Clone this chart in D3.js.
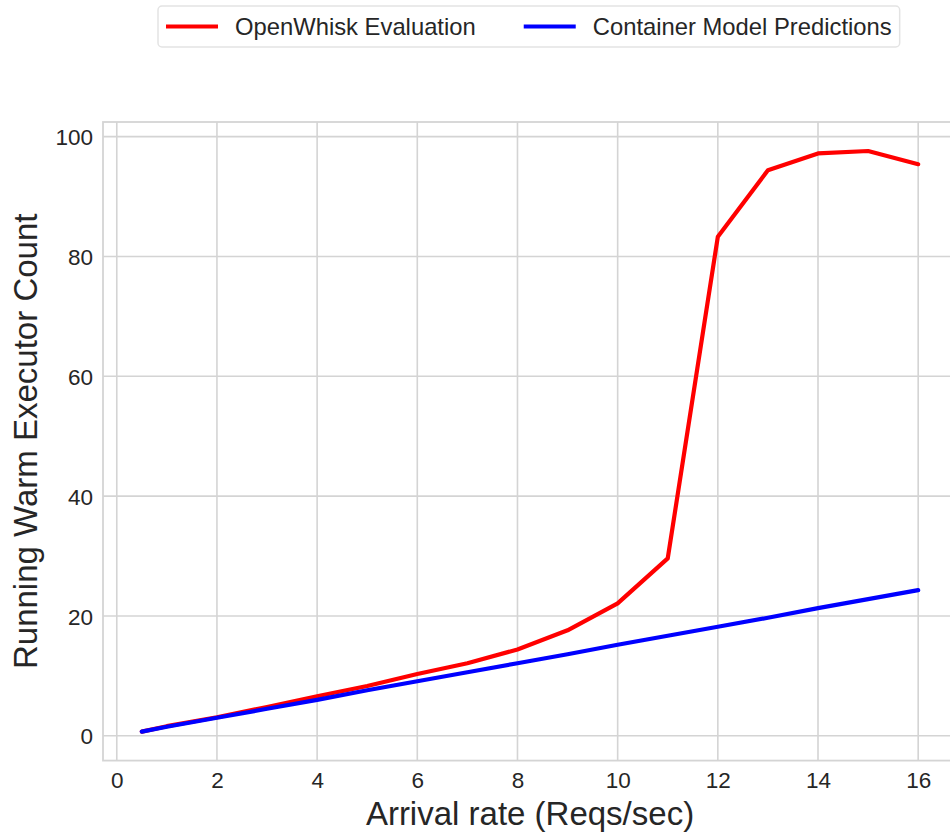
<!DOCTYPE html>
<html>
<head>
<meta charset="utf-8">
<script src="https://cdn.jsdelivr.net/npm/d3@7"></script>
<style>
  html, body { margin: 0; padding: 0; background: #ffffff; }
  svg { display: block; font-family: "Liberation Sans", Arial, sans-serif; }
</style>
</head>
<body>
<svg id="chart" width="950" height="833"></svg>
<script>
// Arrival rates (requests per second)
const arrivalRates = [0.5, 1, 2, 3, 4, 5, 6, 7, 8, 9, 10, 11, 12, 13, 14, 15, 16];
// Measured warm executors in OpenWhisk
const openWhiskValues = [0.7, 1.6, 3.1, 4.8, 6.6, 8.3, 10.3, 12.1, 14.4, 17.6, 22.1, 29.6, 83.3, 94.4, 97.2, 97.6, 95.4];
// Warm executors predicted by the container model
const modelValues = [0.7, 1.5, 3.0, 4.5, 6.0, 7.6, 9.1, 10.6, 12.1, 13.6, 15.2, 16.7, 18.2, 19.7, 21.3, 22.8, 24.3];
const xTickValues = [0, 2, 4, 6, 8, 10, 12, 14, 16];
const yTickValues = [0, 20, 40, 60, 80, 100];
const seriesNames = ["OpenWhisk Evaluation", "Container Model Predictions"];
const seriesColors = ["#ff0000", "#0000ff"];

const svg = d3.select("#chart");
const plot = { left: 103, right: 957, top: 122, bottom: 760.6 };

// Data extent padded by 5% on each side
const xMin = d3.min(arrivalRates), xMax = d3.max(arrivalRates);
const xPad = (xMax - xMin) * 0.05;
const allY = openWhiskValues.concat(modelValues);
const yMin = d3.min(allY), yMax = d3.max(allY);
const yPad = (yMax - yMin) * 0.05;

const x = d3.scaleLinear().domain([xMin - xPad, xMax + xPad]).range([plot.left, plot.right]);
const y = d3.scaleLinear().domain([yMin - yPad, yMax + yPad]).range([plot.bottom, plot.top]);

const gridColor = "#d4d4d4";
const textColor = "#262626";

// Grid
const grid = svg.append("g");
grid.selectAll("line.v").data(xTickValues).join("line")
  .attr("x1", d => x(d)).attr("x2", d => x(d))
  .attr("y1", plot.top).attr("y2", plot.bottom)
  .attr("stroke", gridColor).attr("stroke-width", 1.6);
grid.selectAll("line.h").data(yTickValues).join("line")
  .attr("x1", plot.left).attr("x2", plot.right)
  .attr("y1", d => y(d)).attr("y2", d => y(d))
  .attr("stroke", gridColor).attr("stroke-width", 1.6);

// Frame
svg.append("rect")
  .attr("x", plot.left).attr("y", plot.top)
  .attr("width", plot.right - plot.left).attr("height", plot.bottom - plot.top)
  .attr("fill", "none").attr("stroke", gridColor).attr("stroke-width", 1.8);

// Axes (labels only; no tick marks)
const xAxis = d3.axisBottom(x).tickValues(xTickValues).tickSize(0).tickPadding(11);
const gx = svg.append("g").attr("transform", `translate(0,${plot.bottom})`).call(xAxis);
const yAxis = d3.axisLeft(y).tickValues(yTickValues).tickSize(0).tickPadding(10);
const gy = svg.append("g").attr("transform", `translate(${plot.left},0)`).call(yAxis);
[gx, gy].forEach(g => {
  g.select(".domain").remove();
  g.selectAll("text")
    .attr("fill", textColor)
    .style("font-family", "'Liberation Sans', Arial, sans-serif")
    .style("font-size", "22.5px");
});
gy.selectAll("text").attr("dy", "0.36em");

// Lines
const lineGen = d3.line().x(d => x(d[0])).y(d => y(d[1]));
const series = [openWhiskValues, modelValues];
series.forEach((vals, i) => {
  svg.append("path")
    .datum(arrivalRates.map((r, j) => [r, vals[j]]))
    .attr("fill", "none")
    .attr("stroke", seriesColors[i])
    .attr("stroke-width", 4.2)
    .attr("stroke-linejoin", "round")
    .attr("stroke-linecap", "round")
    .attr("d", lineGen);
});

// Axis titles
svg.append("text")
  .attr("x", (plot.left + plot.right) / 2).attr("y", 825)
  .attr("text-anchor", "middle")
  .attr("fill", textColor)
  .style("font-size", "33px")
  .text("Arrival rate (Reqs/sec)");
svg.append("text")
  .attr("transform", `translate(37,${(plot.top + plot.bottom) / 2}) rotate(-90)`)
  .attr("text-anchor", "middle")
  .attr("fill", textColor)
  .style("font-size", "33px")
  .text("Running Warm Executor Count");

// Legend
const legend = svg.append("g");
const lx0 = 158, ly0 = 6, lh = 41;
const box = legend.append("rect")
  .attr("x", lx0).attr("y", ly0).attr("height", lh)
  .attr("rx", 4).attr("ry", 4)
  .attr("fill", "#ffffff").attr("stroke", "#e3e3e3").attr("stroke-width", 1.5);
let cx = lx0 + 8;
const midY = ly0 + lh / 2;
seriesNames.forEach((name, i) => {
  legend.append("line")
    .attr("x1", cx).attr("x2", cx + 52)
    .attr("y1", midY).attr("y2", midY)
    .attr("stroke", seriesColors[i]).attr("stroke-width", 4.2);
  const t = legend.append("text")
    .attr("x", cx + 69).attr("y", midY).attr("dy", "0.36em")
    .attr("fill", textColor)
    .style("font-size", "23.8px")
    .text(name);
  cx = cx + 69 + t.node().getComputedTextLength() + 48;
});
box.attr("width", cx - 48 + 8 - lx0);
</script>
</body>
</html>
